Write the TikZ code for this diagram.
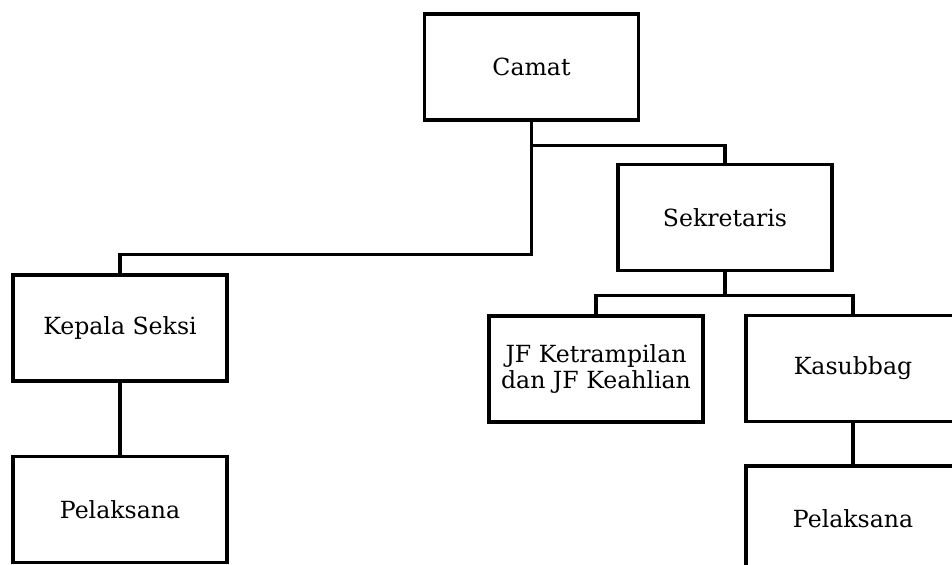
\documentclass[tikz,border=0pt]{standalone}
\usepackage{fontspec}
\setmainfont{DejaVu Serif}
\usetikzlibrary{positioning}
\begin{document}
\begin{tikzpicture}[x=0.5pt, y=-0.5pt, node distance=1cm]
      \tikzset{
	  office/.style={rectangle, draw=black, line width=1.6pt, minimum width=107pt, minimum height=53pt, inner sep=2pt, align=center, text centered, font=\fontsize{11.8}{12.6}\selectfont},
	  link/.style={draw=black, line width=1.6pt}
      }

      \useasboundingbox (0,0) rectangle (952,564);
      \clip (0,0) rectangle (952,564);

      \node [office] (camat) at (531.5,67) {Camat};
      \node [office] (sekretaris) at (725,217.5) {Sekretaris};
      \node [office] (kasi) at (120,328) {Kepala Seksi};
      \node [office] (pelaksanakiri) at (120,509.5) {Pelaksana};
      \node [office] (jf) at (596,369) {JF Ketrampilan\\dan JF Keahlian};
      \node [office] (kasubbag) at (853,368.5) {Kasubbag};
      \node [office] (pelaksanakanan) at (853,519) {Pelaksana};

      % garis dari camat
      \draw [link] (camat.south) -- ++(0,24) -| (sekretaris.north);
      \draw [link] (camat.south) -- ++(0,133) -| (kasi.north);
      % garis dari sekretaris
      \draw [link] (sekretaris.south) -- ++(0,23) coordinate (cabang);
      \draw [link] (jf.north) |- (cabang) -| (kasubbag.north);
      % pelaksana
      \draw [link] (kasi.south) -- (pelaksanakiri.north);
      \draw [link] (kasubbag.south) -- (pelaksanakanan.north);
\end{tikzpicture}
\end{document}
